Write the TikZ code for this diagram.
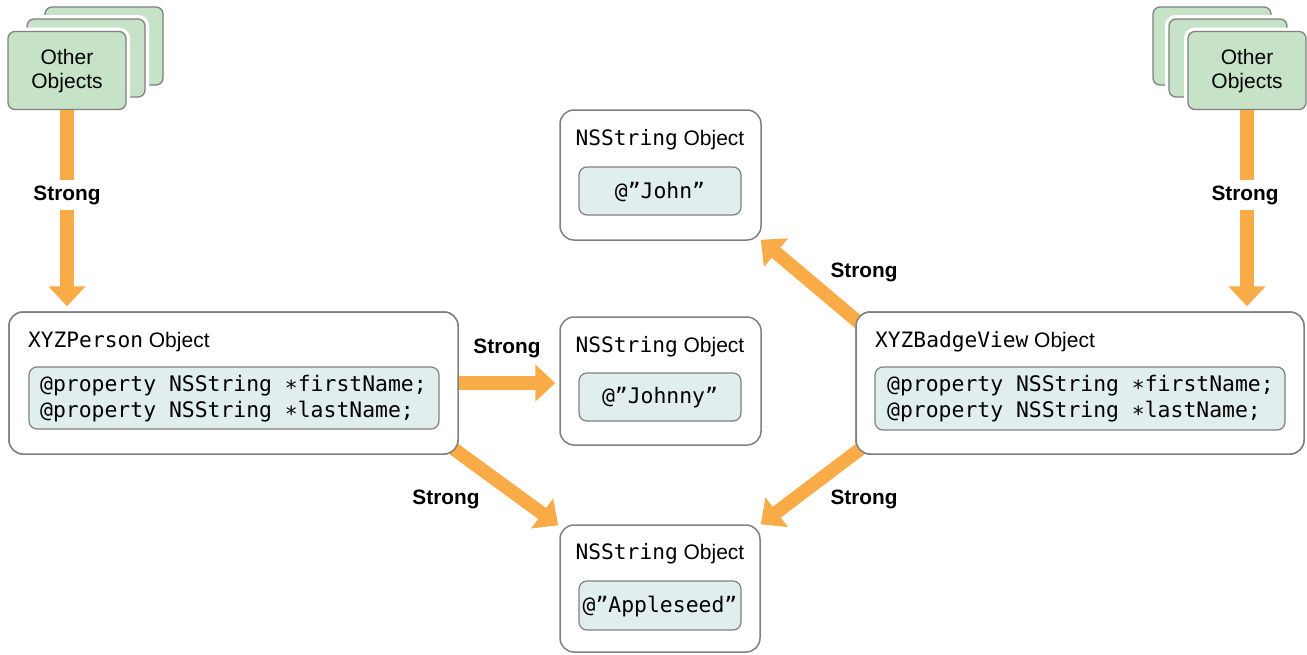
\documentclass[tikz,border=0pt]{standalone}
\usepackage{fontspec}
\setmainfont{Liberation Sans}
\setmonofont{DejaVu Sans Mono}
\usetikzlibrary{arrows.meta,calc}
\definecolor{arrowor}{HTML}{F8AB46}
\definecolor{objgreen}{HTML}{C6E3C8}
\definecolor{litfill}{HTML}{E1EEEE}
\definecolor{edgegray}{HTML}{808080}
\tikzset{
  objbox/.style={draw=edgegray, line width=1.5pt, fill=white, rounded corners=14pt, inner sep=0pt},
  litbox/.style={draw=edgegray, line width=1.2pt, fill=litfill, rounded corners=8pt, inner sep=0pt},
  greenbox/.style={draw=edgegray, line width=1.3pt, fill=objgreen, rounded corners=7pt, inner sep=0pt,
    minimum width=118pt, minimum height=78pt, preaction={draw=white, line width=8pt}},
  strongarrow/.style={draw=arrowor, line width=13.5pt, -{Triangle[length=20pt,width=36pt]}},
  lbl/.style={font=\bfseries\fontsize{20.8}{24}\selectfont, inner sep=0pt},
  lblcut/.style={lbl, fill=white, minimum height=30pt},
  titletxt/.style={inner sep=0pt},
  codetxt/.style={font=\ttfamily\fontsize{21.4}{26}\selectfont, inner sep=0pt, align=left},
  othertxt/.style={font=\fontsize{21}{24}\selectfont, inner sep=0pt, align=center}
}
\newcommand{\objtitle}[1]{{\ttfamily\fontsize{21.2}{24}\selectfont #1}\fontsize{21}{24}\selectfont\ Object}
\begin{document}
\begin{tikzpicture}[x=1pt,y=-1pt]
\useasboundingbox (0,0) rectangle (1307,654);

% boxes
\node[objbox, minimum width=449pt, minimum height=142pt] (person) at (233.5,383) {};
\node[objbox, minimum width=448pt, minimum height=142pt] (badge) at (1080,383) {};
\node[objbox, minimum width=201pt, minimum height=130pt] (john) at (660.5,175) {};
\node[objbox, minimum width=201pt, minimum height=128pt] (johnny) at (660.5,381) {};
\node[objbox, minimum width=200pt, minimum height=127pt] (apple) at (660,588.5) {};

% other objects stacks
\node[greenbox] (l3) at (104,46) {};
\node[greenbox] (l2) at (86,58) {};
\node[greenbox] (ol) at (67,70.5) {};
\node[othertxt] (oltxt) at ($(ol.center)+(0,1)$) {Other\\Objects};

\node[greenbox] (r3) at (1212,46) {};
\node[greenbox] (r2) at (1228,58) {};
\node[greenbox] (orr) at (1247,70.5) {};
\node[othertxt] (ortxt) at ($(orr.center)+(0,1)$) {Other\\Objects};

% connectors
\draw[strongarrow] (ol.south) -- ($(ol.south |- person.north)+(0,-5)$);
\draw[strongarrow] (orr.south) -- ($(orr.south |- badge.north)+(0,-5)$);
\draw[strongarrow] (person.east) -- ($(johnny.west |- person.east)+(-4,0)$);
\draw[strongarrow] ($(person.south east)+(-8,-8)$) -- ($(apple.north west)+(-1,1)$);
\draw[strongarrow] ($(badge.south west)+(8,-8)$) -- ($(apple.north east)+(0,0)$);
\draw[strongarrow] ($(badge.north west)+(14,20)$) -- ($(john.south east)+(-1,-1)$);

% redraw box outlines over arrow starts
\node[objbox, minimum width=449pt, minimum height=142pt] (personf) at (person.center) {};
\node[objbox, minimum width=448pt, minimum height=142pt] (badgef) at (badge.center) {};

% inner literal boxes
\node[litbox, minimum width=410pt, minimum height=62pt] (pcode) at (234,398) {};
\node[litbox, minimum width=410pt, minimum height=63pt] (bcode) at (1080,398.5) {};
\node[litbox, minimum width=162pt, minimum height=48pt] (jlit) at (660,191) {};
\node[litbox, minimum width=162pt, minimum height=48pt] (jylit) at (660,397) {};
\node[litbox, minimum width=162pt, minimum height=49pt] (alit) at (660,605.5) {};

% titles
\node[titletxt, anchor=west] (ptitle) at (28,342) {\objtitle{XYZPerson}};
\node[titletxt, anchor=west] (btitle) at (875,342) {\objtitle{XYZBadgeView}};
\node[titletxt] (jtitle) at (660,140) {\objtitle{NSString}};
\node[titletxt] (jytitle) at (660,347) {\objtitle{NSString}};
\node[titletxt] (atitle) at (660,554) {\objtitle{NSString}};

% code texts
\node[codetxt, anchor=west] (ptext) at (40,399) {@property NSString ∗firstName;\\@property NSString ∗lastName;};
\node[codetxt, anchor=west] (btext) at (887,399) {@property NSString ∗firstName;\\@property NSString ∗lastName;};
\node[codetxt] (jtext) at ($(jlit.center)+(0,1)$) {@”John”};
\node[codetxt] (jytext) at ($(jylit.center)+(0,1)$) {@”Johnny”};
\node[codetxt] (atext) at ($(alit.center)+(0,1)$) {@”Appleseed”};

% labels
\node[lblcut] (s1) at (67,195) {Strong};
\node[lblcut] (s2) at (1245,195) {Strong};
\node[lbl] (s3) at (507,348) {Strong};
\node[lbl] (s4) at (446,499) {Strong};
\node[lbl] (s5) at (864,499) {Strong};
\node[lbl] (s6) at (864,272) {Strong};
\end{tikzpicture}
\end{document}
